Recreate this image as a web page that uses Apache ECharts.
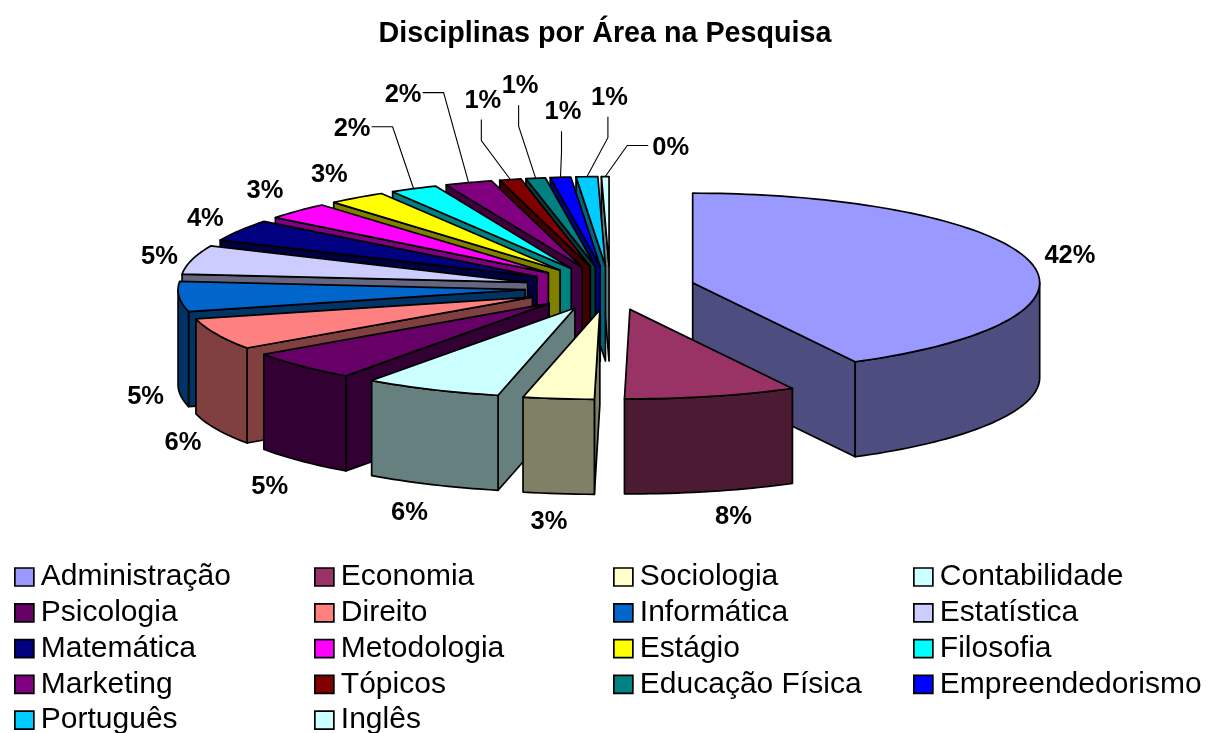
<!DOCTYPE html>
<html><head><meta charset="utf-8">
<style>html,body{margin:0;padding:0;background:#fff}#c{width:1206px;height:733px}</style>
<script src="https://cdn.jsdelivr.net/npm/echarts@6/dist/echarts.min.js"></script>
</head><body><div id="c"></div>
<script>
const categories = ['Administração','Economia','Sociologia','Contabilidade','Psicologia','Direito','Informática','Estatística','Matemática','Metodologia','Estágio','Filosofia','Marketing','Tópicos','Educação Física','Empreendedorismo','Português','Inglês'];
const shares = [42.2,8.0,3.3,6.4,5.4,5.7,5.4,5.2,3.9,3.1,2.7,2.2,2.2,1.0,0.9,0.95,1.0,0.35];
const sliceColors = ['#9999FF','#993366','#FFFFCC','#CCFFFF','#660066','#FF8080','#0066CC','#CCCCFF','#000080','#FF00FF','#FFFF00','#00FFFF','#800080','#800000','#008080','#0000FF','#00CCFF','#CCFFFF'];
// label placement relative to the computed rim midpoint of each slice
const labelNudge = [[39,-7],[21,24],[-11,26],[-24,26],[-33,24],[-35,12],[-35,3],[-34,-5],[-36,-13],[-34,-22],[-29,-25],[-63,-62],[-67,-90],[-29,-81],[-17,-94],[1,-67],[21,-81],[64,-31]];
// side of the label where a leader line attaches; null = no leader
const leaderSide = [null,null,null,null,null,null,null,null,null,null,null,[1,0],[1,0],[0,1],[0,1],[0,1],[0,1],[-1,0]];

const FONT = '"Liberation Sans", Arial, sans-serif';
const PIE = {cx:610, cy:288, rx:347, ry:89.5, depth:95, explode:0.2455};
const total = shares.reduce((a,b)=>a+b,0);
const rad = d => d*Math.PI/180;
let acc = 0;
const spans = shares.map(v => { const a = acc/total*360; acc += v; return [a, acc/total*360]; });
const dim = hex => '#' + [1,3,5].map(i => Math.round(parseInt(hex.substr(i,2),16)*0.5).toString(16).padStart(2,'0')).join('');
const rim = (ox,oy,deg) => [ox+PIE.rx*Math.sin(rad(deg)), oy-PIE.ry*Math.cos(rad(deg))];
const arcPts = (ox,oy,a,b) => { const n=Math.max(2,Math.ceil((b-a)/1.5)); const p=[]; for(let i=0;i<=n;i++) p.push(rim(ox,oy,a+(b-a)*i/n)); return p; };

function renderSlice(i){
  const [a,b] = spans[i], m=(a+b)/2;
  const ox = PIE.cx+PIE.explode*PIE.rx*Math.sin(rad(m));
  const oy = PIE.cy-PIE.explode*PIE.ry*Math.cos(rad(m));
  const side = dim(sliceColors[i]);
  const line = {stroke:'#000', lineWidth:1.7, lineJoin:'round'};
  const face = (pts,fill) => ({type:'polygon', shape:{points:pts}, style:Object.assign({fill},line)});
  const drop = p => [p[0],p[1]+PIE.depth];
  const wall = (p,q) => face([p,q,drop(q),drop(p)],side);
  const children=[];
  const apex=[ox,oy];
  if (Math.sin(rad(a))<-1e-6) children.push(wall(apex,rim(ox,oy,a)));
  if (Math.sin(rad(b))>1e-6) children.push(wall(apex,rim(ox,oy,b)));
  const fa=Math.max(a,90), fb=Math.min(b,270);
  if (fb>fa){ const p=arcPts(ox,oy,fa,fb); children.push(face(p.concat(p.map(drop).reverse()),side)); }
  children.push(face([apex].concat(arcPts(ox,oy,a,b)),sliceColors[i]));
  // label + leader
  const outer = rim(ox,oy,m);
  const anchor = Math.cos(rad(m))<0 ? drop(outer) : outer;
  const lx=anchor[0]+labelNudge[i][0], ly=anchor[1]+labelNudge[i][1];
  const s=leaderSide[i];
  if(s) children.push({type:'polyline',shape:{points:[anchor,[lx+s[0]*42,ly+s[1]*42],[lx+s[0]*21,ly+s[1]*21]]},style:{stroke:'#000',lineWidth:1.1,fill:null}});
  children.push({type:'text',style:{text:Math.round(shares[i]/total*100)+'%',x:lx+1.5,y:ly+2,align:'center',verticalAlign:'middle',font:'bold 25.5px '+FONT,fill:'#000'}});
  return {type:'group',children};
}

const order = categories.map((_,i)=>i).sort((p,q)=>{
  const mp=(spans[p][0]+spans[p][1])/2, mq=(spans[q][0]+spans[q][1])/2;
  return -Math.cos(rad(mp)) - -Math.cos(rad(mq));
});
const series = categories.map((name,i)=>({
  type:'custom', name, coordinateSystem:'none', silent:true, animation:false,
  z:2+order.indexOf(i),
  itemStyle:{color:sliceColors[i]},
  data:[[shares[i]]],
  renderItem:()=>renderSlice(i)
}));
const colX=[14,314,613,913];
const legend=colX.map((left,c)=>({
  orient:'vertical', left, top:562, height:200, padding:0,
  itemWidth:19, itemHeight:18, itemGap:5.8, itemStyle:{borderColor:'#000',borderWidth:1.7},
  icon:'rect', selectedMode:false, inactiveColor:'#000',
  textStyle:{fontFamily:FONT,fontSize:30,color:'#000',lineHeight:30,padding:[0,0,0,2]},
  data:categories.filter((_,i)=>i%4===c)
}));
const chart=echarts.init(document.getElementById('c'),null,{renderer:'canvas'});
chart.setOption({
  animation:false, backgroundColor:'#fff',
  title:{text:'Disciplinas por Área na Pesquisa',left:600,textAlign:'center',top:15,textStyle:{fontFamily:FONT,fontWeight:'bold',fontSize:28.7,color:'#000'}},
  legend, series
});
</script></body></html>
